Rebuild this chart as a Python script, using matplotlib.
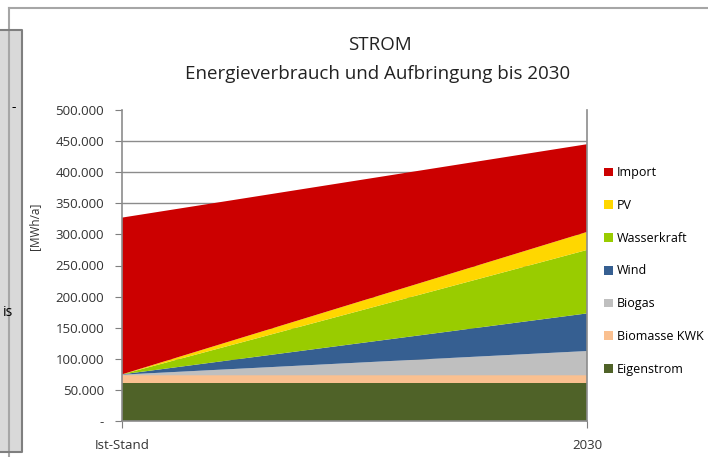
import matplotlib

matplotlib.use("Agg")
import matplotlib.pyplot as plt
from matplotlib.patches import Rectangle
from matplotlib.lines import Line2D

plt.rcParams["font.family"] = ["Open Sans", "DejaVu Sans"]

# data (MWh/a)
periods = ["Ist-Stand", "2030"]
sources = ["Eigenstrom", "Biomasse KWK", "Biogas", "Wind", "Wasserkraft", "PV", "Import"]
eigenstrom = [61000, 61000]
biomasse_kwk = [12500, 12500]
biogas = [1000, 39000]
wind = [500, 60500]
wasserkraft = [0, 102000]
pv = [0, 29000]
imports = [252000, 141000]
colors = ["#4f6228", "#fac090", "#bfbfbf", "#365f91", "#99cc00", "#ffd700", "#cc0000"]
yticks = [0, 50000, 100000, 150000, 200000, 250000, 300000, 350000, 400000, 450000, 500000]

W, H = 708, 457
fig = plt.figure(figsize=(W / 100, H / 100), dpi=100)

# screenshot frame + grey side panel
fig.add_artist(Line2D([9 / W, 9 / W], [0, 1 - 8 / H], color="#a6a6a6", lw=1.5))
fig.add_artist(Line2D([9 / W, 1], [1 - 8 / H, 1 - 8 / H], color="#a6a6a6", lw=1.5))
fig.add_artist(Rectangle((0, 1 - 452 / H), 22 / W, 422 / H, facecolor="#d9d9d9",
                         edgecolor="none", transform=fig.transFigure))
fig.add_artist(Line2D([0, 22 / W, 22 / W, 0], [1 - 30 / H, 1 - 30 / H, 1 - 452 / H, 1 - 452 / H],
                      color="#7f7f7f", lw=1.5))
fig.text(14 / W, 1 - 107 / H, "-", fontsize=10, ha="center", va="center")
fig.text(8 / W, 1 - 313 / H, "is", fontsize=10, ha="center", va="center")

ax = fig.add_axes([122 / W, 1 - 421 / H, 465 / W, 311 / H])
x = [0, 1]
ax.stackplot(x, eigenstrom, biomasse_kwk, biogas, wind, wasserkraft, pv, imports,
             colors=colors, labels=sources, zorder=2)

ax.set_xlim(0, 1)
ax.set_ylim(0, 500000)
ax.set_xticks(x)
ax.set_xticklabels(periods, fontsize=9.5, color="#333333")
ax.set_yticks(yticks)
ax.set_yticklabels(["-" if v == 0 else f"{v:,}".replace(",", ".") for v in yticks],
                   fontsize=9.5, color="#333333")
ax.tick_params(axis="y", length=5, color="#7f7f7f", pad=8)
ax.tick_params(axis="x", length=5, color="#7f7f7f", pad=8)

for v in yticks[1:-1]:
    ax.axhline(v, color="#8c8c8c", lw=1, zorder=1)
for side in ["left", "bottom", "right"]:
    ax.spines[side].set_color("#8c8c8c")
    ax.spines[side].set_linewidth(1.2)
ax.spines["top"].set_visible(False)

ax.set_ylabel("[MWh/a]", fontsize=8.5, color="#333333")
ax.yaxis.set_label_coords((41 - 122) / 465, (421 - 226) / 311)

handles, labels = ax.get_legend_handles_labels()
fig.legend(handles[::-1], labels[::-1], loc="upper left", bbox_to_anchor=(593 / W, 1 - 155 / H),
           frameon=False, fontsize=9, handlelength=0.7, handleheight=0.7, handletextpad=0.3,
           labelspacing=1.58)

fig.text(380 / W, 1 - 45 / H, "STROM", fontsize=13.5, ha="center", va="center", color="#222222")
fig.text(378 / W, 1 - 74 / H, "Energieverbrauch und Aufbringung bis 2030", fontsize=13.5,
         ha="center", va="center", color="#222222")

fig.savefig("out.png", dpi=100)
